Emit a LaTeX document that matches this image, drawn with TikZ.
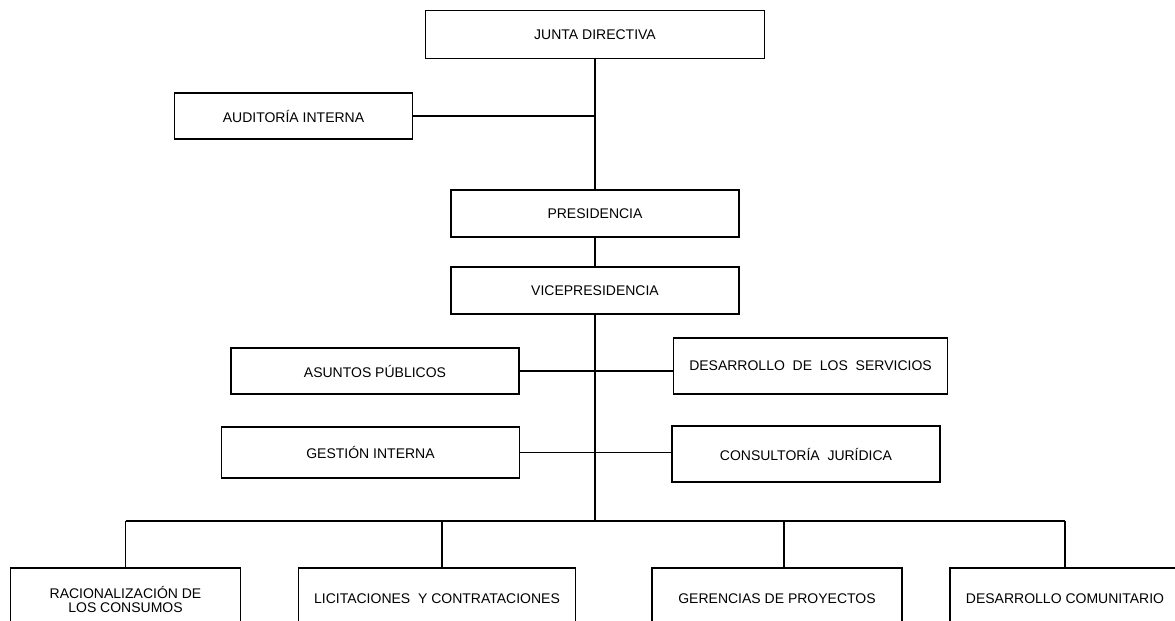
\documentclass[tikz,border=0pt]{standalone}
\usepackage{fontspec}
\setmainfont{Liberation Sans}
\begin{document}
\begin{tikzpicture}[x=0.75pt,y=-0.75pt,
  box/.style={draw, line width=0.8pt, rectangle, inner sep=0pt, align=center,
    font=\fontsize{10.5}{12.5}\selectfont},
  conn/.style={line width=0.8pt}]
\useasboundingbox (0,0) rectangle (1175,621);
\clip (0,0) rectangle (1175,621);
\fill[white] (0,0) rectangle (1175,621);
% boxes
\node[box, minimum width=254pt, minimum height=36.5pt] (junta) at (595,34.5) {JUNTA DIRECTIVA};
\node[box, minimum width=179pt, minimum height=34.5pt] (audit) at (293.5,116) {AUDITORÍA INTERNA};
\node[box, minimum width=216pt, minimum height=35.25pt] (pres) at (595,213.5) {PRESIDENCIA};
\node[box, minimum width=216pt, minimum height=35.25pt] (vice) at (595,290.5) {VICEPRESIDENCIA};
\node[box, minimum width=216pt, minimum height=34.5pt] (asun) at (375,371) {ASUNTOS PÚBLICOS};
\node[box, minimum width=206pt, minimum height=42pt] (dserv) at (810.5,366) {DESARROLLO\ \ DE\ \ LOS\ \ SERVICIOS};
\node[box, minimum width=223pt, minimum height=38.25pt] (gest) at (370.5,452.5) {GESTIÓN INTERNA};
\node[box, minimum width=201pt, minimum height=42pt] (cons) at (806,454) {CONSULTORÍA\ \ JURÍDICA};
\node[box, minimum width=173pt, minimum height=46.5pt] (rac) at (125.5,599) {RACIONALIZACIÓN DE\\[-2pt]LOS CONSUMOS};
\node[box, minimum width=208pt, minimum height=46.5pt] (lic) at (437,599) {LICITACIONES\ \ Y CONTRATACIONES};
\node[box, minimum width=187.5pt, minimum height=46.5pt] (ger) at (777,599) {GERENCIAS DE PROYECTOS};
\node[box, minimum width=172.5pt, minimum height=46.5pt] (dcom) at (1065,599) {DESARROLLO COMUNITARIO};
% bus coordinates
\coordinate (busmid) at (595,521);
\coordinate (busrac) at (125.5,521);
\coordinate (buslic) at (442,521);
\coordinate (busger) at (784,521);
\coordinate (busdcom) at (1065,521);
% connectors
\draw[conn] (junta.south) -- (pres.north);
\draw[conn] (audit.east) -- (audit.east -| junta.south);
\draw[conn] (pres.south) -- (vice.north);
\draw[conn] (vice.south) -- (busmid);
\draw[conn] (asun.east) -- (asun.east -| dserv.west);
\draw[conn] (gest.east) -- (gest.east -| cons.west);
\draw[conn] (busrac) -- (busdcom);
\draw[conn] (busrac) -- (rac.north);
\draw[conn] (buslic) -- (buslic |- lic.north);
\draw[conn] (busger) -- (busger |- ger.north);
\draw[conn] (busdcom) -- (dcom.north);
\end{tikzpicture}
\end{document}
